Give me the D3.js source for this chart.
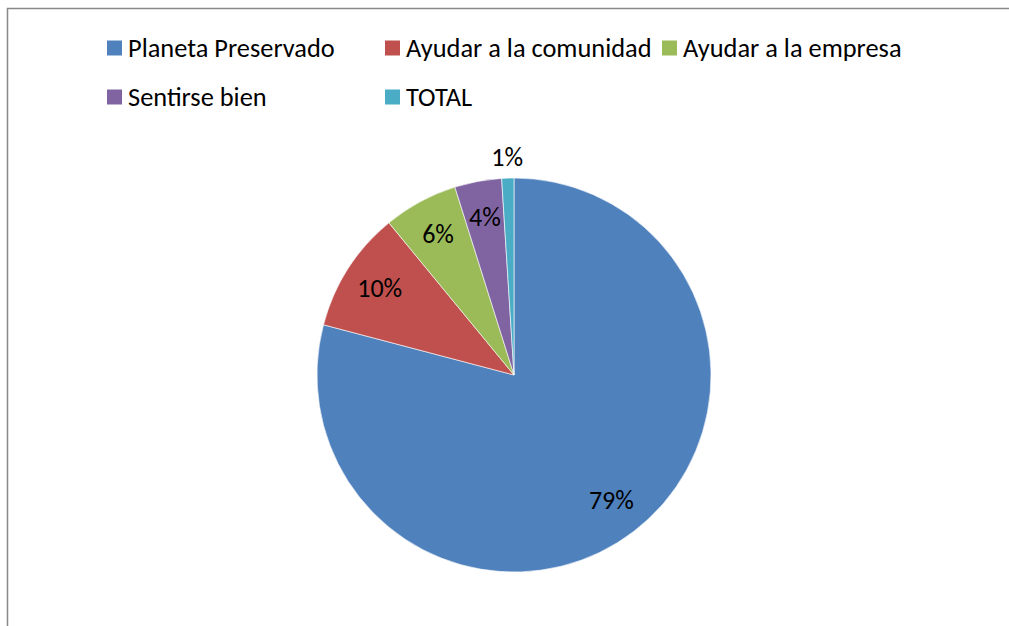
<!DOCTYPE html>
<html>
<head>
<meta charset="utf-8">
<script src="https://cdn.jsdelivr.net/npm/d3@7"></script>
<style>
  body { margin: 0; background: #fff; }
  svg { display: block; }
  text { font-family: Carlito, Calibri, "Open Sans", sans-serif; fill: #000; }
</style>
</head>
<body>
<svg id="chart"></svg>
<script>
// chart data
var categories = ["Planeta Preservado", "Ayudar a la comunidad", "Ayudar a la empresa", "Sentirse bien", "TOTAL"];
var values = [79.1, 9.95, 6.1, 3.85, 1.0];
var colors = ["#4F81BD", "#C0504D", "#9BBB59", "#8064A2", "#4BACC6"];

var width = 1009, height = 626;
var svg = d3.select("svg#chart").attr("width", width).attr("height", height);

// outer frame
svg.append("rect")
  .attr("x", 7.5).attr("y", 8.5)
  .attr("width", 1100).attr("height", 700)
  .style("fill", "none")
  .style("stroke", "#888")
  .style("stroke-width", 1.5);

var cx = 514, cy = 375, r = 197;

var data = categories.map(function (c, i) { return {label: c, value: values[i], color: colors[i]}; });
var total = d3.sum(values);

var pie = d3.pie().sort(null).value(function (d) { return d.value; });
var arc = d3.arc().innerRadius(0).outerRadius(r);
var labelArc = d3.arc().innerRadius(r * 0.81).outerRadius(r * 0.81);
var outerArc = d3.arc().innerRadius(r + 20).outerRadius(r + 20);

var g = svg.append("g").attr("transform", "translate(" + cx + "," + cy + ")");
var arcs = pie(data);

g.selectAll("path.slice")
  .data(arcs)
  .enter()
  .append("path")
  .attr("class", "slice")
  .attr("d", arc)
  .style("fill", function (d) { return d.data.color; })
  .style("stroke", "#fff")
  .style("stroke-width", 0.6);

g.selectAll("text.pct")
  .data(arcs)
  .enter()
  .append("text")
  .attr("class", "pct")
  .attr("transform", function (d) {
    var p = (d.endAngle - d.startAngle) < 0.15 ? outerArc.centroid(d) : labelArc.centroid(d);
    return "translate(" + p + ")";
  })
  .attr("text-anchor", "middle")
  .attr("dy", "0.3em")
  .style("font-size", "26px")
  .text(function (d) { return Math.round(d.data.value / total * 100) + "%"; });

// legend
var legendX = [107, 385, 662];
var legendY = [48, 97];
var legend = svg.selectAll("g.legend")
  .data(data)
  .enter()
  .append("g")
  .attr("class", "legend")
  .attr("transform", function (d, i) {
    return "translate(" + legendX[i % 3] + "," + legendY[Math.floor(i / 3)] + ")";
  });

legend.append("rect")
  .attr("x", 0).attr("y", -7.5)
  .attr("width", 15).attr("height", 15)
  .style("fill", function (d) { return d.color; });

legend.append("text")
  .attr("x", 21)
  .attr("dy", "0.35em")
  .style("font-size", "26.4px")
  .text(function (d) { return d.label; });
</script>
</body>
</html>
